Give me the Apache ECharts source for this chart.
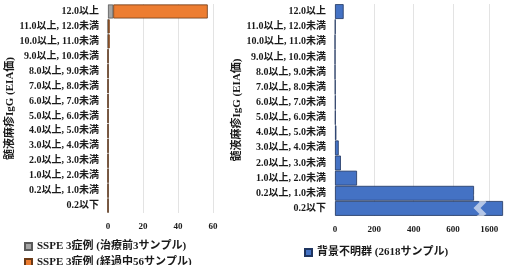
<!DOCTYPE html>
<html>
<head>
<meta charset="utf-8">
<script src="https://cdn.jsdelivr.net/npm/echarts@6/dist/echarts.min.js"></script>
<style>
  html, body { margin: 0; padding: 0; background: #fff; }
  #main { width: 506px; height: 265px; }
</style>
</head>
<body>
<div id="main"></div>
<script>
// カテゴリ（下から上）
var categories = ['0.2以下', '0.2以上, 1.0未満', '1.0以上, 2.0未満', '2.0以上, 3.0未満',
  '3.0以上, 4.0未満', '4.0以上, 5.0未満', '5.0以上, 6.0未満', '6.0以上, 7.0未満',
  '7.0以上, 8.0未満', '8.0以上, 9.0未満', '9.0以上, 10.0未満', '10.0以上, 11.0未満',
  '11.0以上, 12.0未満', '12.0以上'];
var sspeBefore = [0, 0, 0, 0, 0, 0, 0, 0, 0, 0, 0, 0, 0, 3];
var sspeDuring = [0, 0, 0, 0, 0, 0, 0, 0, 0, 0, 0, 1, 1, 54];
var unknownGroup = [1670, 707, 112, 30, 19, 7, 3, 3, 2, 0, 0, 0, 2, 44];
var leftTicks = [0, 20, 40, 60];
var rightTicks = [0, 200, 400, 600, 1600];

var font = '"Liberation Serif", "Noto Sans CJK JP", serif';

function catAxis(gi) {
  return {
    gridIndex: gi, type: 'category', data: categories,
    name: '髄液麻疹IgG (EIA価)', nameLocation: 'middle', nameGap: 92, nameRotate: 90,
    nameTextStyle: { fontFamily: font, fontWeight: 'bold', color: '#1a1a1a', fontSize: 11 },
    axisLine: { show: false }, axisTick: { show: false },
    axisLabel: { interval: 0, fontFamily: font, fontWeight: 'bold', color: '#1a1a1a', fontSize: 10, margin: 9 }
  };
}

function legendItem(name, left, top) {
  return {
    data: [name], left: left, top: top,
    itemWidth: 7, itemHeight: 7, icon: 'rect',
    textStyle: { fontFamily: font, fontWeight: 'bold', color: '#1a1a1a', fontSize: 11 }
  };
}

var chart = echarts.init(document.getElementById('main'));
chart.setOption({
  animation: false,
  grid: [
    { left: 108, top: 4, width: 105, height: 209 },
    { left: 335, top: 4, width: 170, height: 212 }
  ],
  legend: [
    legendItem('SSPE 3症例 (治療前3サンプル)', 19, 236),
    legendItem('SSPE 3症例 (経過中56サンプル)', 19, 252),
    legendItem('背景不明群 (2618サンプル)', 299, 242)
  ],
  xAxis: [
    {
      gridIndex: 0, type: 'value', min: 0, max: 60, interval: 20,
      axisLine: { show: false }, axisTick: { show: false },
      splitLine: { lineStyle: { color: '#e3e3e3' } },
      axisLabel: { fontFamily: font, fontWeight: 'bold', color: '#1a1a1a', fontSize: 9, margin: 9 }
    },
    {
      gridIndex: 1, type: 'value', min: 0, max: 1680, interval: 200,
      breaks: [{ start: 720, end: 1570, gap: '4%' }],
      breakArea: {
        show: true, expandOnClick: false,
        itemStyle: { color: '#fff', borderColor: '#fff', borderWidth: 0 },
        zigzagAmplitude: 3, zigzagMinSpan: 4, zigzagMaxSpan: 8
      },
      axisLine: { show: false },
      axisTick: { show: false, customValues: rightTicks },
      splitLine: { lineStyle: { color: '#e3e3e3' } },
      axisLabel: {
        customValues: rightTicks, hideOverlap: false,
        formatter: function (v) { return String(v); },
        fontFamily: font, fontWeight: 'bold', color: '#1a1a1a', fontSize: 9, margin: 9
      }
    }
  ],
  yAxis: [catAxis(0), catAxis(1)],
  series: [
    {
      name: 'SSPE 3症例 (治療前3サンプル)', type: 'bar', stack: 'sspe',
      xAxisIndex: 0, yAxisIndex: 0, data: sspeBefore, barCategoryGap: '6%',
      itemStyle: { color: '#a5a5a5', borderColor: '#5a5a5a', borderWidth: 0.8 }
    },
    {
      name: 'SSPE 3症例 (経過中56サンプル)', type: 'bar', stack: 'sspe',
      xAxisIndex: 0, yAxisIndex: 0, data: sspeDuring, barCategoryGap: '6%',
      itemStyle: { color: '#ed7d31', borderColor: '#6b3a16', borderWidth: 0.8 }
    },
    {
      name: '背景不明群 (2618サンプル)', type: 'bar',
      xAxisIndex: 1, yAxisIndex: 1, data: unknownGroup, barCategoryGap: '2%',
      itemStyle: { color: '#4472c4', borderColor: '#1f3560', borderWidth: 0.8 }
    }
  ]
});
</script>
</body>
</html>
